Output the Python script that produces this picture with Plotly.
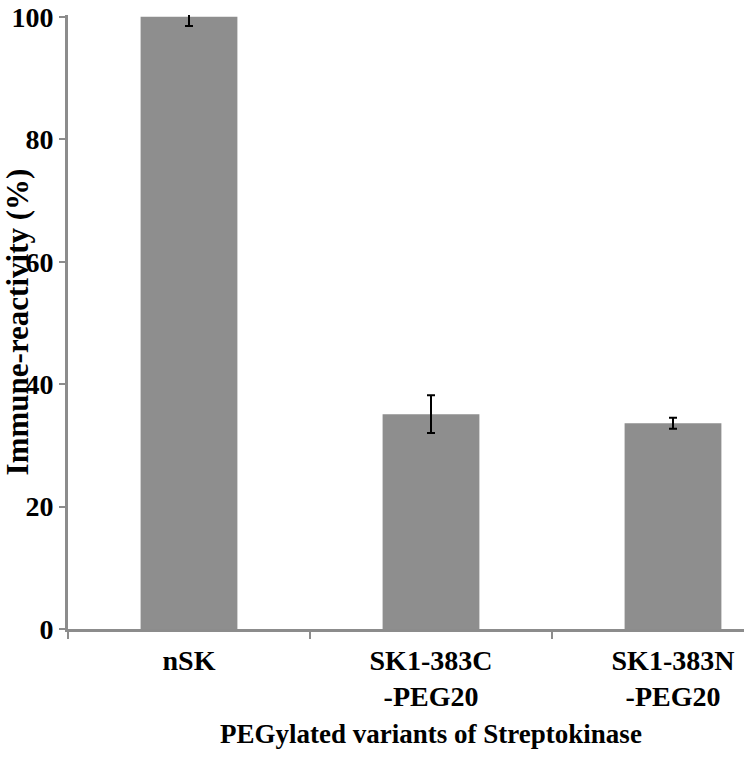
import plotly.graph_objects as go

categories = ["nSK", "SK1-383C<br>-PEG20", "SK1-383N<br>-PEG20"]
values = [100.0, 35.1, 33.6]
errors = [1.5, 3.1, 0.9]
y_ticks = [0, 20, 40, 60, 80, 100]

FONT = "Liberation Serif, Times New Roman, serif"
AXIS_GRAY = "#8c8c8c"

fig = go.Figure(
    go.Bar(
        x=categories,
        y=values,
        width=0.4,
        marker=dict(color="#8e8e8e", line=dict(width=0)),
        error_y=dict(type="data", array=errors, visible=True,
                     color="black", thickness=2, width=4),
    )
)

# The original chart is cropped on the right: the axis runs past the frame.
fig.update_layout(
    width=794,
    height=778,
    margin=dict(l=68, r=0, t=15, b=149),
    plot_bgcolor="white",
    paper_bgcolor="white",
    showlegend=False,
    font=dict(family=FONT, color="black", size=28),
)

fig.update_xaxes(
    range=[-0.5, 2.5],
    automargin=False,
    showline=True, linecolor=AXIS_GRAY, linewidth=3,
    ticks="outside", tickson="boundaries", ticklen=7, tickwidth=2, tickcolor=AXIS_GRAY,
    showgrid=False, zeroline=False,
    ticklabelstandoff=4,
    tickfont=dict(family=FONT, size=28, color="black", weight="bold"),
    title=dict(text="<b>PEGylated variants of Streptokinase</b>",
               font=dict(family=FONT, size=27, color="black"), standoff=14),
)

fig.update_yaxes(
    range=[0, 100.3],
    tickvals=y_ticks,
    automargin=False,
    ticklabeloverflow="allow",
    showline=True, linecolor=AXIS_GRAY, linewidth=3,
    ticks="outside", ticklen=6, tickwidth=2, tickcolor=AXIS_GRAY,
    showgrid=False, zeroline=False,
    tickfont=dict(family=FONT, size=28, color="black", weight="bold"),
    title=dict(text="<b>Immune-reactivity (%)</b>",
               font=dict(family=FONT, size=31, color="black"), standoff=60),
)

fig.write_html("out.html", config={"displayModeBar": False},
               post_script="document.body.style.margin='0px';document.body.style.overflow='hidden';")
